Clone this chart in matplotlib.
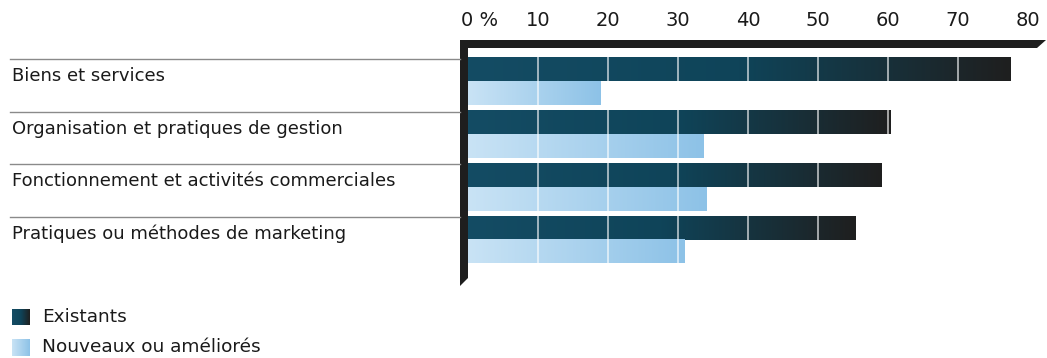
import numpy as np
import matplotlib
matplotlib.use('Agg')
import matplotlib.pyplot as plt
from matplotlib.colors import LinearSegmentedColormap
from matplotlib.patches import Polygon
import matplotlib.transforms as mtransforms

categories = ["Biens et services",
              "Organisation et pratiques de gestion",
              "Fonctionnement et activités commerciales",
              "Pratiques ou méthodes de marketing"]
existants = [77.5, 60.4, 59.1, 55.3]
nouveaux = [19.0, 33.6, 34.1, 30.9]
ticks = [0, 10, 20, 30, 40, 50, 60, 70, 80]
tick_labels = ["0 %", "10", "20", "30", "40", "50", "60", "70", "80"]
legend_labels = ["Existants", "Nouveaux ou améliorés"]

plt.rcParams['font.family'] = ['DejaVu Sans']
W, H = 1047, 358
fig = plt.figure(figsize=(W / 100, H / 100), dpi=100)

cm_exist = LinearSegmentedColormap.from_list("ex", ["#144c64", "#0f4459", "#1f1f1f"])
cm_new = LinearSegmentedColormap.from_list("nw", ["#c9e3f5", "#8dc2e7"])
grad = np.linspace(0, 1, 256).reshape(1, -1)

# axes: x=0 at px 468, x=80 at px 1028; y from px 48 to 285
ax = fig.add_axes([468 / W, 1 - 285 / H, 560 / W, 237 / H])
ax.axis('off')

h = 0.445
for i in range(len(categories)):
    ax.imshow(grad, cmap=cm_exist, aspect='auto', interpolation='bilinear',
              extent=[0, existants[i], i, i - h], zorder=2)
    ax.imshow(grad, cmap=cm_new, aspect='auto', interpolation='bilinear',
              extent=[0, nouveaux[i], i + h, i], zorder=2)
ax.set_xlim(0, 80)
ax.set_ylim(3.854, -0.634)

for t in ticks[1:-1]:
    ax.axvline(t, color='white', lw=1.3, alpha=0.65, zorder=3)

# figure pixel transform (origin top-left)
px = mtransforms.Affine2D().scale(1 / W, -1 / H).translate(0, 1) + fig.transFigure

# black frame: top bar and left bar
fig.patches.append(Polygon([(460, 40), (1046, 40), (1037, 48), (468, 48), (468, 278), (460, 286)],
                           closed=True, facecolor='#1e1e1e', edgecolor='none', transform=px))

bt = mtransforms.blended_transform_factory(ax.transData, px)
for t in ticks[1:]:
    ax.plot([t, t], [40, 48], color='white', lw=1, transform=bt, clip_on=False, zorder=5)

for t, lab in zip(ticks, tick_labels):
    ax.text(t - (1.0 if t == 0 else 0), 21, lab, transform=bt,
            ha='left' if t == 0 else 'center', va='center', fontsize=14, color='#1a1a1a')

# category separators and labels
for i, cat in enumerate(categories):
    y = 59 + i * 52.7
    fig.lines.append(plt.Line2D([10, 460], [y, y], color='#8a8a8a', lw=1, transform=px))
    fig.text(12 / W, 1 - (y + 17) / H, cat, fontsize=13, color='#1a1a1a', va='center', ha='left')

# legend
for j, (lab, cm) in enumerate(zip(legend_labels, [cm_exist, cm_new])):
    yc = 317 + j * 30
    lax = fig.add_axes([12 / W, 1 - (yc + 8.5) / H, 18 / W, 17 / H])
    lax.imshow(grad, cmap=cm, aspect='auto', interpolation='bilinear')
    lax.axis('off')
    fig.text(42 / W, 1 - yc / H, lab, fontsize=13.3, color='#1a1a1a', va='center', ha='left')

fig.savefig('out.png', dpi=100)
